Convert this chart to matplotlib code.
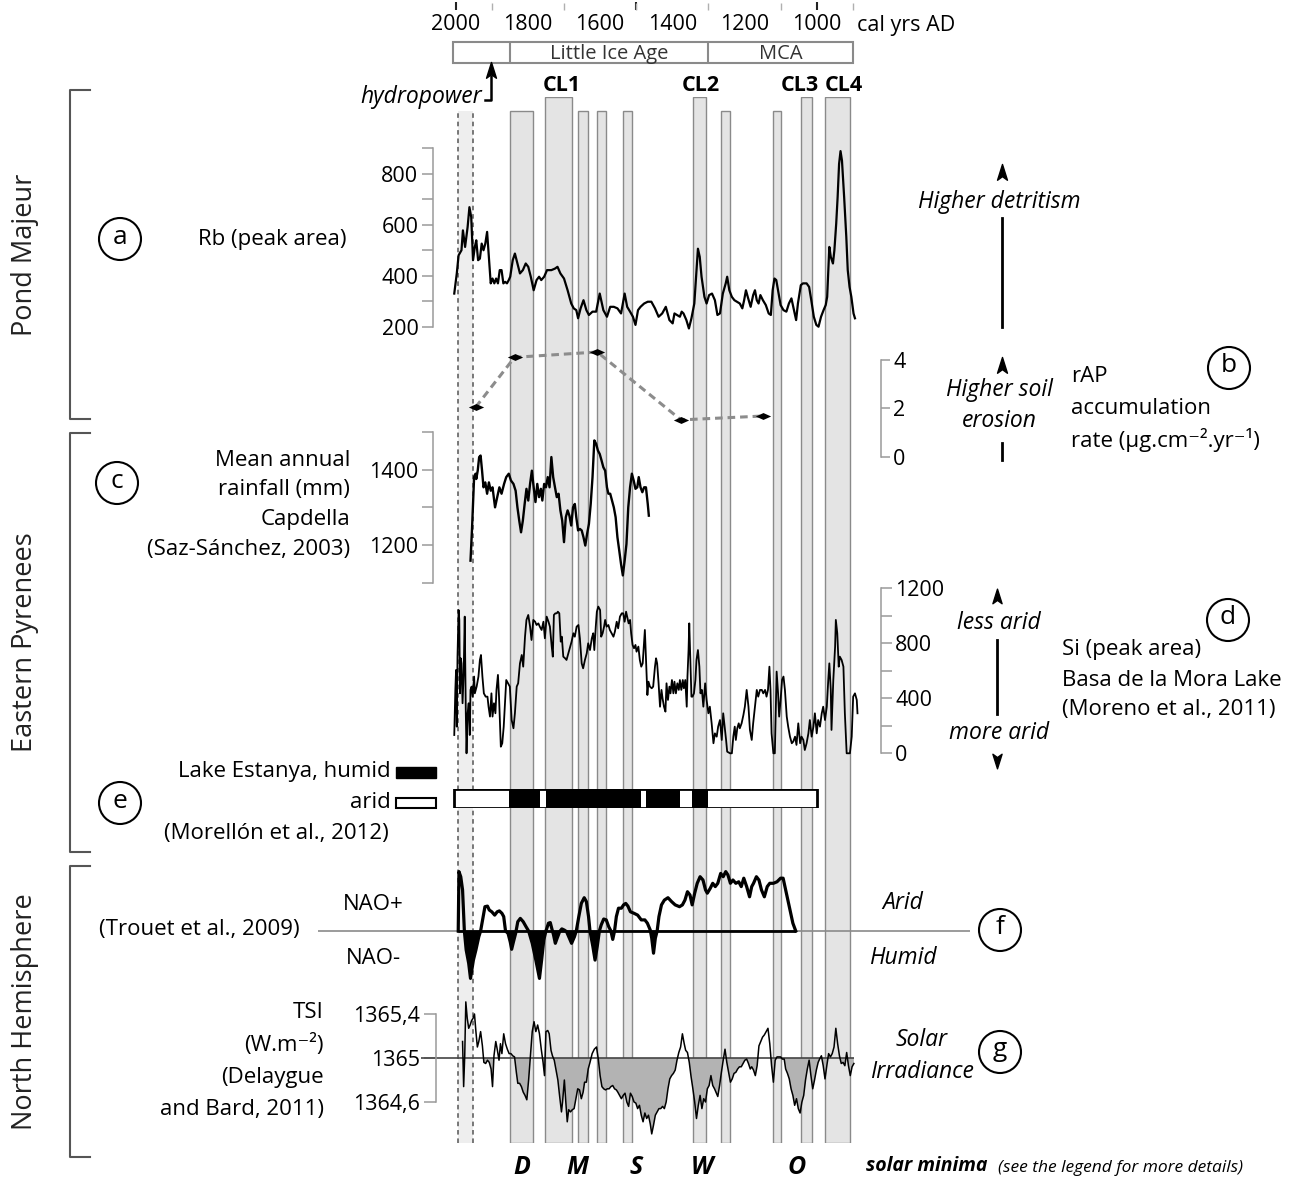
import matplotlib
matplotlib.use('Agg')
import numpy as np
import matplotlib.pyplot as plt
from matplotlib.patches import Rectangle, Circle
from matplotlib.path import Path

plt.rcParams['font.family'] = ['Open Sans', 'DejaVu Sans']
plt.rcParams['axes.unicode_minus'] = False

# ---------------------------------------------------------------- data
SCALE_LABEL_YEARS = [2000, 1800, 1600, 1400, 1200, 1000]
SCALE_TICK_YEARS = [2000, 1900, 1800, 1700, 1600, 1500, 1400, 1300, 1200, 1100, 1000, 900]
SCALE_MAJOR_TICKS = [2000, 1500, 1000]
PERIOD_BOUNDS = [2008, 1850, 1300, 900]
PERIOD_NAMES = ['', 'Little Ice Age', 'MCA']

BAND_START = [1850, 1752, 1660, 1608, 1536, 1343, 1264, 1120, 1043, 977]
BAND_END = [1786, 1678, 1634, 1583, 1513, 1308, 1239, 1098, 1012, 908]
BAND_NAME = ['', 'CL1', '', '', '', 'CL2', '', '', 'CL3', 'CL4']
HYDRO_BAND = [1994, 1952]

RB_YEAR = [2004, 1997, 1992, 1984, 1980, 1974, 1967, 1962, 1957, 1952,
           1947, 1943, 1938, 1933, 1928, 1923, 1918, 1913, 1908, 1903,
           1898, 1893, 1888, 1883, 1878, 1873, 1868, 1863, 1858, 1853,
           1849, 1842, 1836, 1829, 1822, 1814, 1806, 1799, 1792, 1784,
           1776, 1769, 1763, 1755, 1747, 1735, 1725, 1718, 1710, 1700,
           1690, 1680, 1673, 1666, 1661, 1654, 1646, 1638, 1631, 1621,
           1611, 1601, 1591, 1581, 1572, 1562, 1552, 1542, 1532, 1525,
           1517, 1509, 1502, 1495, 1488, 1478, 1468, 1458, 1448, 1438,
           1428, 1418, 1408, 1399, 1394, 1387, 1379, 1374, 1369, 1361,
           1354, 1347, 1339, 1334, 1329, 1324, 1319, 1311, 1305, 1298,
           1290, 1282, 1275, 1268, 1260, 1252, 1248, 1242, 1235, 1228,
           1221, 1213, 1206, 1201, 1196, 1191, 1183, 1176, 1171, 1166,
           1161, 1156, 1149, 1141, 1133, 1127, 1122, 1117, 1112, 1107,
           1100, 1092, 1084, 1077, 1070, 1062, 1057, 1052, 1044, 1038,
           1028, 1021, 1015, 1008, 1001, 995, 988, 981, 975, 971,
           965, 961, 955, 951, 946, 942, 938, 934, 930, 924,
           918, 914, 909, 904, 898, 894]
RB_VAL = [330, 409, 480, 500, 578, 513, 591, 669, 630, 461,
          513, 539, 461, 467, 526, 500, 526, 572, 474, 370,
          389, 370, 389, 370, 422, 422, 370, 376, 370, 383,
          396, 461, 487, 448, 409, 422, 448, 435, 396, 343,
          383, 396, 383, 396, 422, 422, 428, 435, 409, 389,
          343, 291, 272, 265, 233, 272, 304, 265, 246, 259,
          259, 330, 265, 239, 278, 278, 272, 252, 330, 278,
          259, 239, 207, 265, 278, 291, 298, 298, 272, 239,
          252, 278, 226, 213, 252, 246, 239, 259, 252, 226,
          193, 233, 291, 396, 506, 474, 396, 317, 291, 324,
          330, 304, 246, 252, 330, 370, 396, 343, 317, 304,
          298, 291, 272, 304, 343, 317, 278, 324, 343, 304,
          291, 324, 304, 285, 252, 246, 343, 389, 383, 343,
          285, 265, 259, 291, 311, 259, 226, 291, 363, 370,
          370, 356, 304, 239, 207, 200, 239, 265, 285, 317,
          513, 474, 448, 500, 604, 709, 839, 889, 852, 709,
          552, 422, 356, 317, 252, 233]

RAP_YEAR = [1945, 1837, 1608, 1376, 1149]
RAP_VAL = [2.05, 4.11, 4.33, 1.53, 1.69]

RAIN_YEAR = [1959, 1955, 1952, 1949, 1945, 1943, 1939, 1935, 1931, 1927,
             1923, 1918, 1913, 1908, 1903, 1898, 1891, 1885, 1879, 1873,
             1866, 1860, 1853, 1847, 1840, 1834, 1829, 1824, 1819, 1814,
             1809, 1804, 1799, 1794, 1789, 1784, 1779, 1774, 1769, 1764,
             1760, 1755, 1750, 1745, 1740, 1735, 1730, 1725, 1720, 1715,
             1710, 1705, 1700, 1695, 1690, 1685, 1680, 1675, 1670, 1666,
             1661, 1656, 1651, 1646, 1641, 1636, 1631, 1626, 1621, 1616,
             1611, 1606, 1601, 1596, 1591, 1586, 1581, 1577, 1572, 1567,
             1562, 1557, 1552, 1547, 1542, 1537, 1532, 1527, 1522, 1517,
             1512, 1507, 1502, 1497, 1493, 1488, 1483, 1478, 1473, 1468,
             1465]
RAIN_VAL = [1159, 1239, 1309, 1380, 1389, 1375, 1397, 1433, 1437, 1397,
            1353, 1366, 1336, 1366, 1344, 1353, 1300, 1327, 1353, 1336,
            1362, 1380, 1389, 1371, 1362, 1344, 1300, 1265, 1234, 1265,
            1309, 1349, 1318, 1362, 1397, 1353, 1314, 1362, 1327, 1349,
            1318, 1362, 1353, 1380, 1353, 1433, 1380, 1353, 1327, 1336,
            1292, 1265, 1208, 1274, 1292, 1278, 1252, 1300, 1309, 1274,
            1239, 1243, 1239, 1221, 1199, 1230, 1256, 1309, 1380, 1477,
            1468, 1450, 1441, 1424, 1406, 1397, 1353, 1336, 1336, 1318,
            1300, 1274, 1221, 1186, 1150, 1120, 1159, 1203, 1300, 1353,
            1389, 1371, 1349, 1353, 1380, 1353, 1340, 1353, 1353, 1309,
            1278]

SI_YEAR = [2004, 2001, 1999, 1997, 1995, 1992, 1990, 1988, 1986, 1984,
           1981, 1978, 1975, 1972, 1970, 1967, 1964, 1961, 1959, 1956,
           1953, 1949, 1947, 1942, 1937, 1933, 1930, 1926, 1922, 1917,
           1912, 1909, 1905, 1901, 1898, 1894, 1890, 1887, 1883, 1880,
           1877, 1875, 1871, 1867, 1864, 1860, 1855, 1850, 1845, 1840,
           1836, 1831, 1827, 1822, 1817, 1813, 1808, 1804, 1799, 1794,
           1790, 1785, 1780, 1776, 1771, 1767, 1762, 1757, 1753, 1748,
           1743, 1739, 1734, 1731, 1728, 1724, 1720, 1717, 1713, 1709,
           1706, 1702, 1697, 1693, 1688, 1683, 1679, 1674, 1670, 1665,
           1660, 1656, 1651, 1647, 1642, 1637, 1633, 1628, 1623, 1619,
           1616, 1612, 1609, 1605, 1600, 1597, 1593, 1589, 1586, 1582,
           1577, 1573, 1568, 1563, 1559, 1554, 1550, 1545, 1540, 1536,
           1532, 1528, 1525, 1521, 1517, 1514, 1510, 1506, 1502, 1499,
           1494, 1490, 1486, 1482, 1478, 1476, 1473, 1469, 1466, 1462,
           1457, 1453, 1448, 1445, 1442, 1438, 1434, 1430, 1427, 1423,
           1419, 1416, 1412, 1408, 1405, 1401, 1397, 1394, 1390, 1386,
           1382, 1379, 1375, 1371, 1368, 1364, 1360, 1358, 1355, 1353,
           1350, 1347, 1344, 1340, 1336, 1333, 1329, 1325, 1322, 1318,
           1314, 1309, 1305, 1300, 1296, 1291, 1286, 1282, 1277, 1273,
           1268, 1263, 1259, 1255, 1251, 1248, 1240, 1235, 1231, 1227,
           1224, 1220, 1216, 1213, 1208, 1203, 1199, 1194, 1189, 1185,
           1180, 1176, 1171, 1166, 1162, 1157, 1152, 1148, 1143, 1139,
           1135, 1131, 1128, 1125, 1120, 1116, 1111, 1107, 1104, 1100,
           1096, 1092, 1088, 1083, 1079, 1074, 1069, 1065, 1060, 1056,
           1051, 1046, 1042, 1037, 1033, 1028, 1023, 1019, 1014, 1009,
           1005, 1000, 996, 991, 986, 982, 977, 972, 968, 965,
           961, 959, 954, 949, 947, 943, 939, 936, 931, 926,
           922, 917, 908, 903, 899, 894, 889, 887]
SI_VAL = [133, 461, 606, 194, 703, 1042, 970, 436, 691, 654,
          364, 582, 994, 291, 0, 291, 364, 133, 461, 485,
          412, 558, 436, 485, 558, 679, 715, 558, 436, 412,
          412, 339, 267, 436, 267, 364, 291, 461, 570, 412,
          194, 48, 73, 194, 339, 533, 509, 485, 242, 182,
          291, 485, 509, 654, 715, 630, 848, 970, 1006, 921,
          824, 970, 957, 933, 945, 921, 897, 957, 836, 994,
          957, 921, 776, 703, 1006, 1018, 1018, 1030, 1018, 812,
          848, 703, 691, 679, 727, 776, 812, 873, 848, 921,
          933, 836, 654, 618, 679, 727, 800, 751, 836, 873,
          751, 921, 1030, 1067, 1042, 848, 873, 921, 970, 921,
          933, 897, 873, 848, 885, 957, 909, 994, 1018, 1018,
          957, 1030, 994, 945, 970, 873, 788, 764, 788, 739,
          776, 679, 630, 654, 824, 897, 691, 424, 521, 485,
          473, 485, 630, 691, 654, 509, 339, 461, 400, 339,
          303, 509, 388, 485, 436, 533, 436, 521, 436, 509,
          461, 533, 461, 533, 473, 533, 339, 558, 751, 945,
          679, 412, 412, 436, 533, 679, 751, 630, 436, 461,
          339, 509, 388, 291, 339, 218, 73, 145, 121, 194,
          242, 97, 291, 194, 97, 12, 0, 0, 121, 194,
          97, 182, 218, 182, 218, 279, 339, 461, 339, 170,
          97, 218, 339, 461, 412, 461, 461, 436, 461, 412,
          461, 630, 461, 145, 0, 0, 594, 436, 267, 388,
          533, 558, 461, 267, 194, 121, 73, 85, 121, 61,
          218, 73, 121, 97, 24, 73, 145, 242, 121, 194,
          291, 145, 242, 194, 291, 339, 242, 339, 533, 654,
          461, 170, 533, 776, 970, 873, 630, 703, 679, 630,
          291, 0, 0, 121, 412, 436, 388, 291]

ESTANYA_SPAN = [2005, 1000]
HUMID_START = [1851, 1751, 1472, 1346]
HUMID_END = [1767, 1487, 1380, 1301]

NAO_YEAR = [1993, 1991, 1986, 1981, 1976, 1971, 1964, 1959, 1951, 1944,
            1936, 1931, 1924, 1919, 1912, 1907, 1900, 1892, 1885, 1879,
            1872, 1867, 1862, 1855, 1849, 1845, 1840, 1834, 1828, 1821,
            1813, 1805, 1798, 1788, 1778, 1768, 1762, 1756, 1750, 1743,
            1738, 1734, 1729, 1724, 1719, 1712, 1706, 1699, 1693, 1687,
            1679, 1671, 1666, 1659, 1652, 1644, 1638, 1632, 1628, 1620,
            1614, 1608, 1602, 1597, 1590, 1583, 1576, 1570, 1565, 1560,
            1555, 1549, 1541, 1535, 1529, 1523, 1516, 1506, 1496, 1486,
            1476, 1469, 1461, 1457, 1452, 1447, 1442, 1437, 1430, 1422,
            1412, 1402, 1392, 1380, 1372, 1365, 1358, 1351, 1345, 1338,
            1331, 1323, 1315, 1308, 1303, 1295, 1288, 1281, 1274, 1266,
            1259, 1252, 1246, 1239, 1232, 1224, 1216, 1209, 1202, 1194,
            1186, 1180, 1175, 1167, 1160, 1153, 1145, 1137, 1130, 1120,
            1110, 1100, 1093, 1088, 1076, 1066, 1058]
NAO_VAL = [0, 1.98, 1.81, 1.37, 0, -0.63, -1.08, -1.58, -0.97, -0.63,
           -0.19, 0, 0.48, 0.81, 0.83, 0.70, 0.64, 0.53, 0.64, 0.67,
           0.59, 0.48, 0, -0.08, -0.36, -0.61, -0.36, -0.08, 0.31, 0.42,
           0.31, 0.14, 0, -0.41, -0.97, -1.58, -0.97, -0.30, 0, 0.26,
           0.28, 0.09, -0.13, -0.41, -0.24, -0.02, 0.07, 0.03, -0.02, -0.19,
           -0.41, -0.19, 0, 0.48, 0.92, 1.11, 0.98, 0.48, 0, -0.52,
           -0.97, -0.52, 0, 0.20, 0.40, 0.37, 0.14, 0, -0.28, 0,
           0.48, 0.76, 0.76, 0.87, 0.92, 0.83, 0.64, 0.59, 0.53, 0.37,
           0.37, 0.26, 0.03, -0.24, -0.74, -0.24, 0, 0.48, 0.87, 1.03,
           1.11, 0.98, 0.87, 0.81, 0.87, 1.03, 1.31, 1.20, 0.87, 1.26,
           1.59, 1.81, 1.70, 1.37, 1.26, 1.42, 1.59, 1.48, 1.59, 1.92,
           1.81, 1.98, 1.87, 1.59, 1.70, 1.59, 1.64, 1.48, 1.76, 1.48,
           1.14, 1.48, 1.59, 1.81, 1.70, 1.37, 1.14, 1.48, 1.59, 1.59,
           1.64, 1.76, 1.76, 1.48, 0.81, 0.26, 0]

TSI_YEAR = [1981, 1978, 1975, 1972, 1968, 1964, 1960, 1956, 1952, 1948,
            1944, 1940, 1936, 1931, 1926, 1922, 1917, 1912, 1907, 1902,
            1898, 1894, 1889, 1885, 1880, 1876, 1872, 1867, 1862, 1857,
            1852, 1847, 1842, 1837, 1832, 1828, 1823, 1818, 1813, 1808,
            1803, 1798, 1793, 1788, 1783, 1778, 1773, 1768, 1763, 1758,
            1754, 1750, 1745, 1741, 1736, 1732, 1727, 1722, 1717, 1712,
            1707, 1704, 1699, 1695, 1691, 1687, 1682, 1677, 1672, 1667,
            1662, 1657, 1652, 1647, 1643, 1638, 1633, 1628, 1622, 1616,
            1610, 1605, 1600, 1595, 1590, 1585, 1580, 1575, 1570, 1565,
            1560, 1555, 1551, 1546, 1541, 1536, 1531, 1526, 1521, 1516,
            1511, 1506, 1501, 1496, 1491, 1486, 1481, 1476, 1471, 1466,
            1461, 1457, 1452, 1447, 1442, 1437, 1432, 1427, 1422, 1417,
            1412, 1407, 1402, 1397, 1392, 1387, 1382, 1377, 1372, 1367,
            1363, 1358, 1353, 1348, 1343, 1338, 1333, 1328, 1323, 1318,
            1313, 1308, 1303, 1298, 1293, 1288, 1283, 1278, 1274, 1269,
            1264, 1259, 1254, 1249, 1244, 1239, 1234, 1229, 1224, 1219,
            1214, 1209, 1204, 1199, 1194, 1189, 1184, 1180, 1175, 1170,
            1165, 1160, 1155, 1150, 1145, 1140, 1135, 1130, 1125, 1120,
            1115, 1110, 1105, 1100, 1095, 1090, 1086, 1081, 1076, 1071,
            1066, 1061, 1056, 1051, 1046, 1041, 1036, 1031, 1026, 1021,
            1016, 1011, 1006, 1001, 996, 992, 987, 982, 977, 972,
            967, 962, 957, 952, 947, 942, 937, 932, 927, 922,
            917, 912, 907, 902, 897]
TSI_VAL = [1365.15, 1364.74, 1365.02, 1365.51, 1365.36, 1365.27, 1365.30, 1365.34, 1365.36, 1365.40,
           1365.24, 1365.10, 1365.15, 1365.24, 1365.11, 1364.96, 1364.95, 1364.98, 1364.96, 1364.90,
           1364.74, 1365.02, 1365.15, 1365.08, 1364.98, 1365.13, 1365.04, 1365.22, 1365.13, 1365.08,
           1365.04, 1365.04, 1365.02, 1365.01, 1364.87, 1364.77, 1364.77, 1364.74, 1364.69, 1364.66,
           1364.62, 1364.80, 1365.02, 1365.24, 1365.33, 1365.24, 1365.30, 1365.22, 1365.08, 1364.96,
           1364.84, 1365.24, 1365.25, 1365.22, 1365.07, 1365.02, 1364.98, 1364.89, 1364.80, 1364.65,
           1364.51, 1364.60, 1364.80, 1364.60, 1364.42, 1364.53, 1364.51, 1364.53, 1364.54, 1364.63,
           1364.72, 1364.71, 1364.63, 1364.69, 1364.78, 1364.78, 1364.90, 1364.96, 1365.04, 1365.08,
           1365.10, 1364.99, 1364.84, 1364.74, 1364.72, 1364.71, 1364.72, 1364.72, 1364.74, 1364.75,
           1364.72, 1364.71, 1364.69, 1364.66, 1364.63, 1364.66, 1364.68, 1364.60, 1364.56, 1364.68,
           1364.65, 1364.60, 1364.59, 1364.54, 1364.57, 1364.48, 1364.42, 1364.50, 1364.45, 1364.48,
           1364.40, 1364.31, 1364.39, 1364.48, 1364.51, 1364.54, 1364.54, 1364.56, 1364.54, 1364.60,
           1364.72, 1364.81, 1364.84, 1364.86, 1364.89, 1364.98, 1365.05, 1365.10, 1365.22, 1365.13,
           1365.07, 1365.05, 1364.96, 1364.83, 1364.72, 1364.60, 1364.45, 1364.57, 1364.66, 1364.54,
           1364.63, 1364.60, 1364.72, 1364.75, 1364.84, 1364.75, 1364.72, 1364.68, 1364.65, 1364.75,
           1364.87, 1364.98, 1365.08, 1364.96, 1364.87, 1364.78, 1364.81, 1364.86, 1364.87, 1364.90,
           1364.92, 1364.92, 1364.95, 1364.98, 1364.99, 1364.95, 1364.90, 1364.92, 1364.89, 1364.84,
           1364.93, 1365.11, 1365.15, 1365.19, 1365.21, 1365.24, 1365.27, 1365.13, 1364.93, 1364.78,
           1364.98, 1365.01, 1365.01, 1365.01, 1364.99, 1364.99, 1364.90, 1364.86, 1364.81, 1364.72,
           1364.66, 1364.57, 1364.63, 1364.54, 1364.50, 1364.60, 1364.66, 1364.80, 1364.90, 1364.98,
           1364.84, 1364.72, 1364.80, 1364.89, 1364.96, 1364.99, 1365.02, 1364.93, 1364.81, 1364.93,
           1365.04, 1365.01, 1365.04, 1365.10, 1365.27, 1365.13, 1365.02, 1364.95, 1364.96, 1364.93,
           1365.05, 1364.93, 1364.84, 1364.92, 1364.95]

SOLAR_MIN_NAMES = ['D', 'M', 'S', 'W', 'O']
SOLAR_MIN_YEARS = [1818, 1664, 1500, 1318, 1055]

# ---------------------------------------------------------------- layout
W, H = 1300, 1180
fig = plt.figure(figsize=(W / 100, H / 100), dpi=100)
fig.patch.set_facecolor('white')

X2000, PPY = 455.7, 0.361          # pixel of year 2000, pixels per year
AX_L, AX_R = 300, 1000
TICK_FS, LAB_FS, IT_FS = 15.5, 16, 16.5
AX_GRAY = '#9a9a9a'
BAND_FILL, BAND_EDGE = '#e4e4e4', '#8a8a8a'
CL_DX = {'CL1': 2, 'CL2': 1, 'CL3': -5, 'CL4': 4.5}   # label nudges in points


def yr(p):
    return 2000 - (p - X2000) / PPY


def add_ax(y_top, y_bot, z=1):
    ax = fig.add_axes([AX_L / W, 1 - y_bot / H, (AX_R - AX_L) / W, (y_bot - y_top) / H], zorder=z)
    ax.set_xlim(yr(AX_L), yr(AX_R))
    ax.patch.set_visible(False)
    for s in ax.spines.values():
        s.set_visible(False)
    ax.set_xticks([])
    ax.set_yticks([])
    return ax


def yspine(ax, side, xpix, lo, hi, major, minor, labels, length):
    sp = ax.spines[side]
    sp.set_visible(True)
    sp.set_position(('axes', (xpix - AX_L) / (AX_R - AX_L)))
    sp.set_bounds(lo, hi)
    sp.set_color(AX_GRAY)
    sp.set_linewidth(1.1)
    ax.yaxis.set_ticks_position(side)
    ax.set_yticks(major, labels=labels)
    ax.set_yticks(minor, minor=True)
    ax.tick_params(axis='y', which='both', direction='out', length=length, width=1.1,
                   color=AX_GRAY, labelsize=TICK_FS, pad=2.5, labelcolor='black')


# ---- background bands
ax_bd = add_ax(97, 1143, z=0)
ax_bd.set_ylim(0, 1)
short = (1143 - 111) / (1143 - 97)
for s, e, n in zip(BAND_START, BAND_END, BAND_NAME):
    ax_bd.axvspan(e, s, 0, 1 if n else short, facecolor=BAND_FILL, edgecolor=BAND_EDGE, lw=1.0)
    if n:
        ax_bd.annotate(n, xy=((s + e) / 2, 1), xycoords=('data', 'axes fraction'),
                       xytext=(CL_DX[n], 8), textcoords='offset points', ha='center', va='center',
                       fontsize=15.5, fontweight='bold')
ax_bd.axvspan(HYDRO_BAND[1], HYDRO_BAND[0], 0, short, facecolor='#eeeeee', edgecolor='none')
for x in HYDRO_BAND:
    ax_bd.axvline(x, 0, short, color='#555555', lw=1.1, ls=(0, (3, 2.5)))

# ---- top scale
ax_sc = add_ax(0, 10, z=2)
ax_sc.set_xticks(SCALE_LABEL_YEARS, labels=[str(v) for v in SCALE_LABEL_YEARS])
ax_sc.set_xticks(SCALE_TICK_YEARS, minor=True)
ax_sc.tick_params(axis='x', which='major', length=0, labelsize=15.5, pad=3)
ax_sc.tick_params(axis='x', which='minor', direction='in', length=5, width=1, color='#b0b0b0')
sec = ax_sc.secondary_xaxis('bottom')
sec.set_xticks(SCALE_MAJOR_TICKS)
sec.tick_params(direction='in', length=5.5, width=1.5, color='#222222', labelbottom=False)
sec.spines['bottom'].set_visible(False)

# ---- period box
ax_pd = add_ax(41.7, 63.3, z=2)
ax_pd.set_ylim(0, 1)
ax_pd.add_patch(Rectangle((PERIOD_BOUNDS[0], 0), PERIOD_BOUNDS[-1] - PERIOD_BOUNDS[0], 1,
                          fill=False, ec='#8a8a8a', lw=1.5, clip_on=False))
ax_pd.vlines(PERIOD_BOUNDS[1:-1], 0, 1, color='#8a8a8a', lw=1.5)
for a, b, name in zip(PERIOD_BOUNDS[:-1], PERIOD_BOUNDS[1:], PERIOD_NAMES):
    if name:
        ax_pd.text((a + b) / 2, 0.42, name, ha='center', va='center', fontsize=14.5, color='#333333')

# ---- (a) Rb
ax_a = add_ax(148.3, 326.7, z=3)
yspine(ax_a, 'left', 433, 200, 900, [200, 400, 600, 800], [300, 500, 700, 900],
       ['200', '400', '600', '800'], 8)
ax_a.set_ylim(200, 900)
ax_a.plot(RB_YEAR, RB_VAL, color='black', lw=1.6, clip_on=False)

# ---- (b) rAP
ax_b = add_ax(360, 457, z=3)
yspine(ax_b, 'right', 880.7, 0, 4, [0, 2, 4], [], ['0', '2', '4'], 6.5)
ax_b.set_ylim(0, 4)
DIAMOND = Path([(-1, 0), (0, 0.45), (1, 0), (0, -0.45), (-1, 0)],
               [Path.MOVETO, Path.LINETO, Path.LINETO, Path.LINETO, Path.CLOSEPOLY])
ax_b.plot(RAP_YEAR, RAP_VAL, color='#8c8c8c', lw=2.2, ls=(0, (2.5, 1.6)), clip_on=False)
ax_b.plot(RAP_YEAR, RAP_VAL, ls='none', marker=DIAMOND, ms=11, color='black',
          markeredgewidth=0, clip_on=False)

# ---- (c) rainfall
ax_c = add_ax(431.7, 583, z=3)
yspine(ax_c, 'left', 433, 1100, 1500, [1200, 1400], [1100, 1300, 1500], ['1200', '1400'], 8)
ax_c.set_ylim(1100, 1500)
ax_c.plot(RAIN_YEAR, RAIN_VAL, color='black', lw=1.7, clip_on=False)

# ---- (d) Si
ax_d = add_ax(588.3, 753.3, z=3)
yspine(ax_d, 'right', 880.7, 0, 1200, [0, 400, 800, 1200], [200, 600, 1000],
       ['0', '400', '800', '1200'], 8)
ax_d.set_ylim(0, 1200)
ax_d.plot(SI_YEAR, SI_VAL, color='black', lw=1.3, clip_on=False)

# ---- (e) Estanya
ax_e = add_ax(789.3, 808.3, z=3)
ax_e.set_ylim(0, 1)
ax_e.barh(0.5, ESTANYA_SPAN[1] - ESTANYA_SPAN[0], left=ESTANYA_SPAN[0], height=1,
          color='white', edgecolor='none')
ax_e.broken_barh([(e, s - e) for s, e in zip(HUMID_START, HUMID_END)], (0, 1), facecolors='black')
ax_e.barh(0.5, ESTANYA_SPAN[1] - ESTANYA_SPAN[0], left=ESTANYA_SPAN[0], height=1,
          fill=False, edgecolor='black', lw=2)

# ---- (f) NAO
ax_f = add_ax(856, 991, z=3)
ax_f.set_ylim(-2, 2.5)
nao = np.array(NAO_VAL)
ax_f.hlines(0, yr(318), yr(970), color='#8a8a8a', lw=1.2)
ax_f.fill_between(NAO_YEAR, nao, 0, where=nao < 0, interpolate=True, color='black', lw=0)
ax_f.hlines(0, NAO_YEAR[0], NAO_YEAR[-1], color='black', lw=2)
ax_f.plot(NAO_YEAR, nao, color='black', lw=2.3, clip_on=False)

# ---- (g) TSI
ax_g = add_ax(1014, 1102, z=3)
yspine(ax_g, 'left', 436, 1364.6, 1365.4, [1364.6, 1365.0, 1365.4], [],
       ['1364,6', '1365', '1365,4'], 9)
ax_g.set_ylim(1364.6, 1365.4)
tsi = np.array(TSI_VAL)
ax_g.fill_between(TSI_YEAR, tsi, 1365, where=tsi < 1365, interpolate=True,
                  color='#b3b3b3', lw=0, clip_on=False)
ax_g.hlines(1365, yr(421), yr(854), color='#444444', lw=1.2)
ax_g.plot(TSI_YEAR, tsi, color='black', lw=1.1, clip_on=False)

# ---------------------------------------------------------------- annotations overlay
ax_t = fig.add_axes([0, 0, 1, 1], zorder=10)
ax_t.set_xlim(0, W)
ax_t.set_ylim(H, 0)
ax_t.axis('off')
ax_t.patch.set_visible(False)
T = ax_t.text

HEAD_UP = Path([(0, 1), (0.55, -0.75), (0, -0.35), (-0.55, -0.75), (0, 1)],
               [Path.MOVETO, Path.LINETO, Path.LINETO, Path.LINETO, Path.CLOSEPOLY])
HEAD_DN = Path([(0, -1), (0.55, 0.75), (0, 0.35), (-0.55, 0.75), (0, -1)],
               [Path.MOVETO, Path.LINETO, Path.LINETO, Path.LINETO, Path.CLOSEPOLY])

T(857, 25, 'cal yrs AD', ha='left', va='center', fontsize=15.5)

# hydropower
T(482, 97, 'hydropower', ha='right', va='center', fontsize=16.5, style='italic')
ax_t.plot([485, 491, 491], [100, 100, 76], color='black', lw=1.8)
ax_t.plot([491], [71], marker=HEAD_UP, ms=13, color='black')

# left brackets and region names
for name, top, bot in [('Pond Majeur', 90, 419), ('Eastern Pyrenees', 433, 852),
                       ('North Hemisphere', 866, 1157)]:
    ax_t.plot([90, 70, 70, 90], [top, top, bot, bot], color='#555555', lw=1.5)
    T(25, (top + bot) / 2, name, rotation=90, ha='center', va='center', fontsize=19.5, color='#222222')

# circled letters
for letter, cx, cy in [('a', 120, 239), ('b', 1229, 368), ('c', 117, 483), ('d', 1228, 620),
                       ('e', 120, 803), ('f', 1000, 930), ('g', 1000, 1052)]:
    ax_t.add_patch(Circle((cx, cy), 21, fill=False, lw=1.5, ec='black'))
    T(cx, cy - 2, letter, ha='center', va='center', fontsize=19)

# (a)
T(347, 239, 'Rb (peak area)', ha='right', va='center', fontsize=LAB_FS)
ax_t.plot([1002], [173], marker=HEAD_UP, ms=13, color='black')
T(999, 202, 'Higher detritism', ha='center', va='center', fontsize=IT_FS, style='italic')
ax_t.plot([1002, 1002], [218, 327], color='black', lw=2)

# (b)
ax_t.plot([1002], [366], marker=HEAD_UP, ms=13, color='black')
T(999, 390, 'Higher soil', ha='center', va='center', fontsize=IT_FS, style='italic')
T(999, 421, 'erosion', ha='center', va='center', fontsize=IT_FS, style='italic')
ax_t.plot([1002, 1002], [443, 460], color='black', lw=2)
T(1071, 377, 'rAP', ha='left', va='center', fontsize=LAB_FS)
T(1071, 408, 'accumulation', ha='left', va='center', fontsize=LAB_FS)
T(1071, 440, 'rate (µg.cm⁻².yr⁻¹)', ha='left', va='center', fontsize=LAB_FS)

# (c)
for i, s in enumerate(['Mean annual', 'rainfall (mm)', 'Capdella', '(Saz-Sánchez, 2003)']):
    T(350, 460 + 30 * i, s, ha='right', va='center', fontsize=LAB_FS)

# (d)
ax_t.plot([997], [597], marker=HEAD_UP, ms=12, color='black')
T(999, 623, 'less arid', ha='center', va='center', fontsize=IT_FS, style='italic')
ax_t.plot([997, 997], [640, 714], color='black', lw=2)
T(999, 733, 'more arid', ha='center', va='center', fontsize=IT_FS, style='italic')
ax_t.plot([997], [760], marker=HEAD_DN, ms=12, color='black')
for i, s in enumerate(['Si (peak area)', 'Basa de la Mora Lake', '(Moreno et al., 2011)']):
    T(1062, 650 + 30 * i, s, ha='left', va='center', fontsize=LAB_FS)

# (e)
T(391, 772, 'Lake Estanya, humid', ha='right', va='center', fontsize=LAB_FS)
T(391, 803, 'arid', ha='right', va='center', fontsize=LAB_FS)
T(389, 833, '(Morellón et al., 2012)', ha='right', va='center', fontsize=LAB_FS)
ax_t.add_patch(Rectangle((396, 767), 40, 11, facecolor='black', edgecolor='black', lw=1))
ax_t.add_patch(Rectangle((396, 798), 40, 10, facecolor='white', edgecolor='black', lw=1.5))

# (f)
T(373, 904, 'NAO+', ha='center', va='center', fontsize=LAB_FS)
T(373, 959, 'NAO-', ha='center', va='center', fontsize=LAB_FS)
T(300, 930, '(Trouet et al., 2009)', ha='right', va='center', fontsize=LAB_FS)
T(903, 903, 'Arid', ha='center', va='center', fontsize=IT_FS, style='italic')
T(903, 958, 'Humid', ha='center', va='center', fontsize=IT_FS, style='italic')

# (g)
for i, s in enumerate(['TSI', '(W.m⁻²)', '(Delaygue', 'and Bard, 2011)']):
    T(324, 1012 + 32.5 * i, s, ha='right', va='center', fontsize=LAB_FS)
T(922, 1040, 'Solar', ha='center', va='center', fontsize=IT_FS, style='italic')
T(922, 1072, 'Irradiance', ha='center', va='center', fontsize=IT_FS, style='italic')

# solar minima
for name, y0 in zip(SOLAR_MIN_NAMES, SOLAR_MIN_YEARS):
    ax_bd.annotate(name, xy=(y0, 0), xycoords=('data', 'axes fraction'), xytext=(0, -18),
                   textcoords='offset points', ha='center', va='center', fontsize=18,
                   fontweight='bold', style='italic')
T(866, 1166, 'solar minima', ha='left', va='center', fontsize=14, fontweight='bold', style='italic')
T(998, 1168, '(see the legend for more details)', ha='left', va='center', fontsize=12.5, style='italic')

fig.savefig('out.png', dpi=100, facecolor='white')
